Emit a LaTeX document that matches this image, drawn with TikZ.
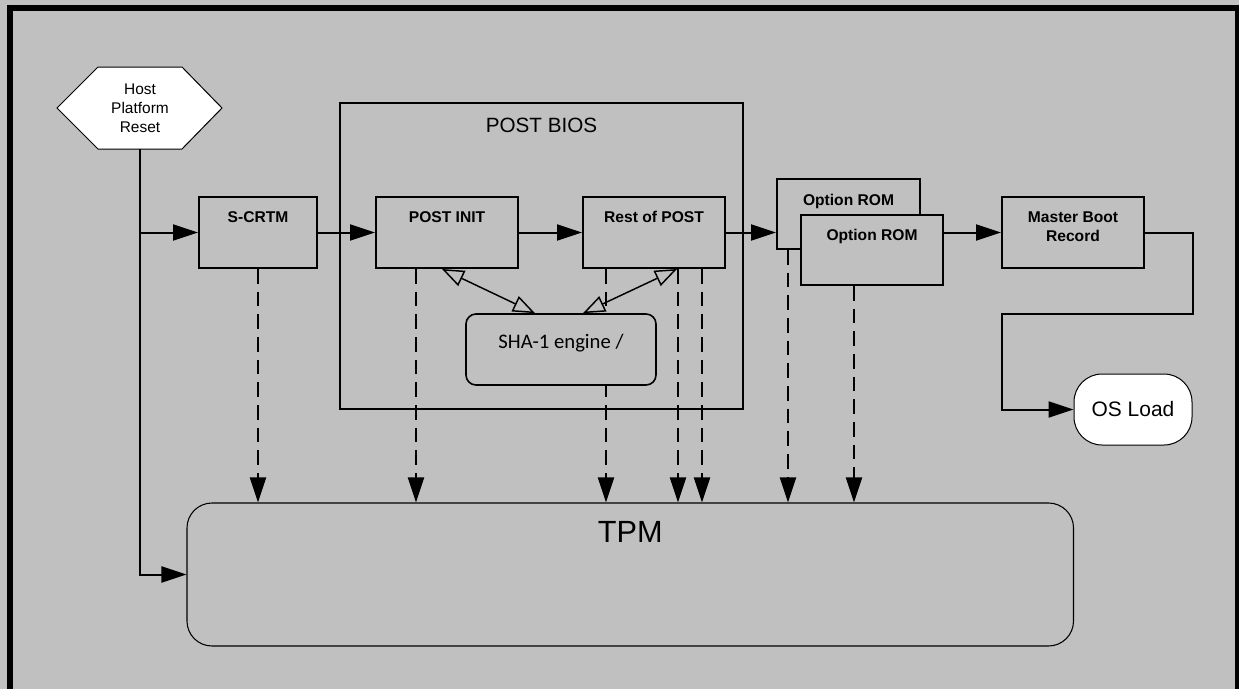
\documentclass[tikz,border=0pt]{standalone}
\usepackage{fontspec}
\setmainfont{Liberation Sans}
\newfontfamily\calib{Carlito}
\usetikzlibrary{arrows.meta,calc}
\definecolor{bg}{HTML}{C0C0C0}
\begin{document}
\begin{tikzpicture}[x=0.75pt,y=-0.75pt,
  conn/.style={line width=1.5pt, -{Triangle[length=18.75pt,width=12pt]}},
  dconn/.style={conn, dash pattern=on 11pt off 6pt},
  dbl/.style={line width=1.1pt, {Triangle[open,length=16.5pt,width=12.5pt]}-{Triangle[open,length=16.5pt,width=12.5pt]}},
  box/.style 2 args={draw, line width=1.5pt, fill=bg, inner sep=0pt,
    minimum width=#1*0.75pt, minimum height=#2*0.75pt},
  lbl/.style={inner sep=0pt, text depth=0pt, align=center,
    font=\fontsize{11.7pt}{14.2pt}\selectfont\bfseries},
  plain/.style={inner sep=0pt, text depth=0pt, align=center}
]
\useasboundingbox (0,0) rectangle (1239,689);
\fill[bg] (0,0) rectangle (1239,689);
\draw[line width=4.5pt] (10,720) -- (10,8) -- (1238,8) -- (1238,720);

% POST BIOS container
\node[box={403}{306}, label={[plain, font=\fontsize{15.5pt}{18pt}\selectfont, yshift=98.25pt]center:POST BIOS}] (bios) at (541.5,256) {};

% TPM
\node[draw, line width=0.8pt, fill=bg, rounded corners=18.75pt, inner sep=0pt,
  minimum width=664.9pt, minimum height=107.25pt,
  label={[plain, font=\fontsize{23pt}{27pt}\selectfont, yshift=32.25pt]center:TPM}] (tpm) at (630.25,574.5) {};

% Host platform reset hexagon
\filldraw[fill=white, draw=black, line width=0.75pt]
  (57,108) -- (98,67) -- (182,67) -- (222,108) -- (182,149) -- (98,149) -- cycle;
\node[plain, minimum width=123.75pt, minimum height=61.5pt,
  font=\fontsize{11.6pt}{14.25pt}\selectfont] (hpr) at (140,108) {Host\\Platform\\Reset};

% process boxes
\node[box={118}{71}, label={[lbl, yshift=11.6pt]center:S-CRTM}] (scrtm) at (258,232.5) {};
\node[box={142}{71}, label={[lbl, yshift=11.6pt]center:POST INIT}] (pinit) at (447,232.5) {};
\node[box={142}{71}, label={[lbl, yshift=11.6pt]center:Rest of POST}] (rest) at (654,232.5) {};
\node[box={143}{70}, label={[lbl, yshift=10.5pt]center:Option ROM}] (romb) at (848.5,214) {};
\node[box={142}{70}, label={[lbl, yshift=11.25pt]center:Option ROM}] (romf) at (872,250) {};
\node[box={142}{71}, label={[lbl, yshift=4.6pt]center:{Master Boot\\Record}}] (mbr) at (1073,232.5) {};
\node[draw, line width=0.75pt, fill=white, rounded corners=21pt, inner sep=0pt,
  minimum width=88.5pt, minimum height=53.25pt,
  font=\fontsize{15.7pt}{18pt}\selectfont] (os) at (1133,409.5) {OS Load};

% measurement line passing behind the SHA-1 engine
\coordinate (r1) at ($(rest.south west)+(24,0)$);
\draw[dconn] (r1) -- (r1 |- tpm.north);

% SHA-1 engine
\node[draw, line width=1.2pt, fill=bg, rounded corners=7.5pt, inner sep=0pt,
  minimum width=142.5pt, minimum height=53.25pt,
  label={[plain, font=\calib\fontsize{15.5pt}{18pt}\selectfont, yshift=6.4pt]center:SHA-1 engine /}] (sha) at (561,349.5) {};

% control flow
\draw[conn] (hpr.south) |- (tpm.west);
\draw[conn] (hpr.south |- scrtm.west) -- (scrtm.west);
\draw[conn] (scrtm.east) -- (pinit.west);
\draw[conn] (pinit.east) -- (rest.west);
\draw[conn] (rest.east) -- (rest.east -| romb.west);
\draw[conn] (mbr.west -| romf.east) -- (mbr.west);
\coordinate (m1) at (1193,314);
\coordinate (m2) at (1002,314);
\draw[conn] (mbr.east) -| (m1) -- (m2) |- (os.west);

% hash engine usage
\draw[dbl] ($(pinit.south)+(-5,0)$) -- ($(sha.north)+(-26,0)$);
\draw[dbl] ($(rest.south)+(23,0)$) -- ($(sha.north)+(22,0)$);

% measurements into TPM
\coordinate (s1) at (scrtm.south);
\coordinate (p1) at ($(pinit.south west)+(41,0)$);
\coordinate (r2) at ($(rest.south east)+(-48,0)$);
\coordinate (r3) at ($(rest.south east)+(-24,0)$);
\coordinate (o1) at ($(romb.south west)+(12,0)$);
\coordinate (o2) at ($(romf.south west)+(54,0)$);
\draw[dconn] (s1) -- (s1 |- tpm.north);
\draw[dconn] (p1) -- (p1 |- tpm.north);
\draw[dconn] (r2) -- (r2 |- tpm.north);
\draw[dconn] (r3) -- (r3 |- tpm.north);
\draw[dconn] (o1) -- (o1 |- tpm.north);
\draw[dconn] (o2) -- (o2 |- tpm.north);
\end{tikzpicture}
\end{document}
